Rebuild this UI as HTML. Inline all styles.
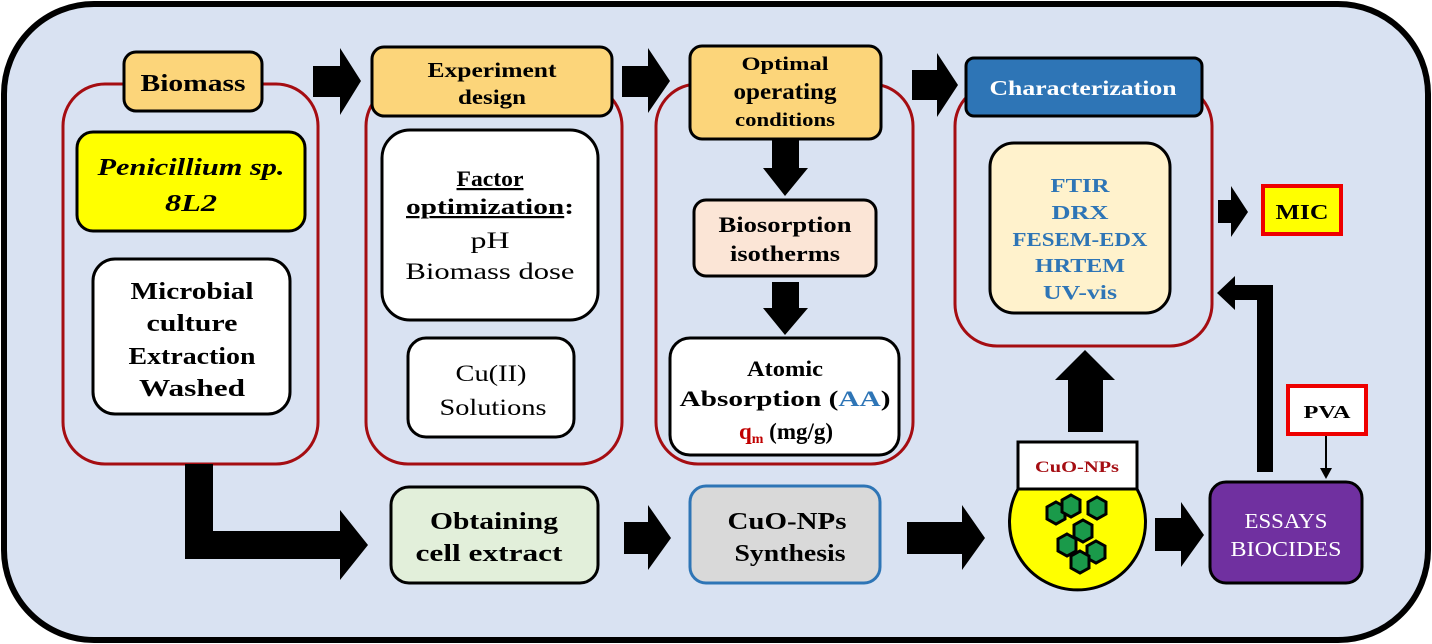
<!DOCTYPE html>
<html><head><meta charset="utf-8"><style>
html,body{margin:0;padding:0;background:#fff}
svg{display:block}
text{font-family:"Liberation Serif",serif;text-anchor:middle}
.b{font-weight:bold}
.n{font-weight:normal}
</style></head><body>
<svg width="1432" height="644" viewBox="0 0 1432 644" xmlns="http://www.w3.org/2000/svg">
<rect x="4" y="4" width="1424" height="636" rx="90" fill="#d9e2f2" stroke="#000" stroke-width="6"/>
<g fill="none" stroke="#a50d12" stroke-width="3">
<rect x="63" y="84" width="255" height="380" rx="42"/>
<rect x="366" y="84" width="256" height="380" rx="42"/>
<rect x="656" y="84" width="257" height="380" rx="42"/>
<rect x="955" y="84" width="257" height="262" rx="42"/>
</g>
<g fill="#000">
<polygon points="313,66 340,66 340,48 361,81 340,115 340,97 313,97"/>
<polygon points="622,66 648,66 648,48 670,81 648,113 648,97 622,97"/>
<polygon points="912,70 937,70 937,53 958,85 937,117 937,100 912,100"/>
<polygon points="772,140 799,140 799,168 808,168 785,196 763,168 772,168"/>
<polygon points="772,282 799,282 799,308 808,308 785,335 763,308 772,308"/>
<polygon points="185,464 213,464 213,531 340,531 340,510 368,545 340,580 340,559 185,559"/>
<polygon points="624,522 648,522 648,505 671,538 648,570 648,554 624,554"/>
<polygon points="907,522 962,522 962,505 985,538 962,570 962,554 907,554"/>
<polygon points="1155,518 1181,518 1181,502 1204,535 1181,567 1181,551 1155,551"/>
<polygon points="1068,432 1103,432 1103,380 1115,380 1085,350 1055,380 1068,380"/>
<polygon points="1257,472 1273,472 1273,285 1235,285 1235,276 1217,293 1235,310 1235,300 1257,300"/>
<polygon points="1218,200 1231,200 1231,186 1248,212 1231,237 1231,223 1218,223"/>
</g>
<line x1="1326" y1="434" x2="1326" y2="470" stroke="#000" stroke-width="2"/>
<polygon points="1320,468 1332,468 1326,479" fill="#000"/>
<g stroke="#000" stroke-width="3">
<rect x="124" y="52" width="138" height="59" rx="12" fill="#fcd57a"/>
<rect x="372" y="47" width="240" height="69" rx="12" fill="#fcd57a"/>
<rect x="690" y="46" width="191" height="93" rx="12" fill="#fcd57a"/>
<rect x="966" y="58" width="236" height="58" rx="8" fill="#2e75b6"/>
<rect x="77" y="132" width="228" height="99" rx="16" fill="#ffff00"/>
<rect x="93" y="259" width="197" height="155" rx="22" fill="#fff"/>
<rect x="382" y="130" width="216" height="190" rx="28" fill="#fff"/>
<rect x="408" y="338" width="166" height="99" rx="18" fill="#fff"/>
<rect x="694" y="200" width="182" height="76" rx="12" fill="#fbe5d6"/>
<rect x="670" y="338" width="229" height="117" rx="20" fill="#fff"/>
<rect x="990" y="143" width="180" height="170" rx="24" fill="#fff2cc"/>
<rect x="391" y="487" width="207" height="96" rx="18" fill="#e2efda"/>
<rect x="1210" y="482" width="152" height="101" rx="16" fill="#7030a0"/>
<path d="M1018,489 A68,68 0 1 0 1137,489 Z" fill="#ffff00"/>
<rect x="1018" y="442" width="119" height="47" fill="#fff"/>
</g>
<rect x="690" y="486" width="190" height="97" rx="16" fill="#d9d9d9" stroke="#2e75b6" stroke-width="3"/>
<rect x="1263" y="186" width="78" height="48" fill="#ffff00" stroke="#e00" stroke-width="4"/>
<rect x="1288" y="386" width="78" height="48" fill="#fff" stroke="#e00" stroke-width="4"/>
<g fill="#1a9a4a" stroke="#000" stroke-width="3">
<polygon points="1056,502 1065,507 1065,519 1056,524 1047,519 1047,507"/>
<polygon points="1071,495 1080,500 1080,512 1071,517 1062,512 1062,500"/>
<polygon points="1097,497 1106,502 1106,514 1097,519 1088,514 1088,502"/>
<polygon points="1083,520 1092,525 1092,537 1083,542 1074,537 1074,525"/>
<polygon points="1067,534 1076,539 1076,551 1067,556 1058,551 1058,539"/>
<polygon points="1096,541 1105,546 1105,558 1096,563 1087,558 1087,546"/>
<polygon points="1080,551 1089,556 1089,568 1080,573 1071,568 1071,556"/>
</g>
<g class="b">
<text x="193" y="91" font-size="24" textLength="105" lengthAdjust="spacingAndGlyphs">Biomass</text>
<text x="492" y="77" font-size="21" textLength="129" lengthAdjust="spacingAndGlyphs">Experiment</text>
<text x="492" y="104" font-size="21" textLength="68" lengthAdjust="spacingAndGlyphs">design</text>
<text x="785" y="70" font-size="19" textLength="87" lengthAdjust="spacingAndGlyphs">Optimal</text>
<text x="785" y="99" font-size="23" textLength="103" lengthAdjust="spacingAndGlyphs">operating</text>
<text x="785" y="126" font-size="19" textLength="100" lengthAdjust="spacingAndGlyphs">conditions</text>
<text x="1083" y="95" font-size="21" fill="#fff" textLength="187" lengthAdjust="spacingAndGlyphs">Characterization</text>
<text x="191" y="175" font-size="24" font-style="italic" textLength="187" lengthAdjust="spacingAndGlyphs">Penicillium sp.</text>
<text x="191" y="211" font-size="24" font-style="italic" textLength="52" lengthAdjust="spacingAndGlyphs">8L2</text>
<text x="192" y="299" font-size="24" textLength="123" lengthAdjust="spacingAndGlyphs">Microbial</text>
<text x="192" y="331" font-size="24" textLength="91" lengthAdjust="spacingAndGlyphs">culture</text>
<text x="192" y="364" font-size="24" textLength="127" lengthAdjust="spacingAndGlyphs">Extraction</text>
<text x="192" y="396" font-size="24" textLength="106" lengthAdjust="spacingAndGlyphs">Washed</text>
<text x="490" y="186" font-size="22" text-decoration="underline" textLength="67" lengthAdjust="spacingAndGlyphs">Factor</text>
<text x="490" y="214" font-size="22" textLength="168" lengthAdjust="spacingAndGlyphs"><tspan text-decoration="underline">optimization</tspan>:</text>
<text x="490" y="248" font-size="23" class="n" textLength="39" lengthAdjust="spacingAndGlyphs">pH</text>
<text x="490" y="279" font-size="23" class="n" textLength="169" lengthAdjust="spacingAndGlyphs">Biomass dose</text>
<text x="491" y="381" font-size="23" class="n" textLength="71" lengthAdjust="spacingAndGlyphs">Cu(II)</text>
<text x="493" y="415" font-size="23" class="n" textLength="107" lengthAdjust="spacingAndGlyphs">Solutions</text>
<text x="785" y="232" font-size="22" textLength="133" lengthAdjust="spacingAndGlyphs">Biosorption</text>
<text x="785" y="261" font-size="22" textLength="110" lengthAdjust="spacingAndGlyphs">isotherms</text>
<text x="785" y="376" font-size="22" textLength="76" lengthAdjust="spacingAndGlyphs">Atomic</text>
<text x="785" y="406" font-size="22" textLength="211" lengthAdjust="spacingAndGlyphs">Absorption (<tspan fill="#2e75b6">AA</tspan>)</text>
<text x="786" y="439" font-size="23"><tspan fill="#c00000">q<tspan font-size="14" dy="4">m</tspan></tspan><tspan dy="-4"> (mg/g)</tspan></text>
<g fill="#2e75b6" font-size="20">
<text x="1080" y="192" textLength="59" lengthAdjust="spacingAndGlyphs">FTIR</text>
<text x="1080" y="219" textLength="57" lengthAdjust="spacingAndGlyphs">DRX</text>
<text x="1080" y="246" textLength="135" lengthAdjust="spacingAndGlyphs">FESEM-EDX</text>
<text x="1080" y="272" textLength="90" lengthAdjust="spacingAndGlyphs">HRTEM</text>
<text x="1080" y="299" textLength="74" lengthAdjust="spacingAndGlyphs">UV-vis</text>
</g>
<text x="1302" y="219" font-size="21" textLength="53" lengthAdjust="spacingAndGlyphs">MIC</text>
<text x="1327" y="418" font-size="18" textLength="47" lengthAdjust="spacingAndGlyphs">PVA</text>
<text x="1077" y="472" font-size="16" fill="#a50d12" textLength="84" lengthAdjust="spacingAndGlyphs">CuO-NPs</text>
<text x="1286" y="528" font-size="21" fill="#fff" class="n" textLength="83" lengthAdjust="spacingAndGlyphs">ESSAYS</text>
<text x="1286" y="556" font-size="21" fill="#fff" class="n" textLength="111" lengthAdjust="spacingAndGlyphs">BIOCIDES</text>
<text x="494" y="529" font-size="24" textLength="128" lengthAdjust="spacingAndGlyphs">Obtaining</text>
<text x="489" y="561" font-size="24" textLength="147" lengthAdjust="spacingAndGlyphs">cell extract</text>
<text x="787" y="529" font-size="24" textLength="119" lengthAdjust="spacingAndGlyphs">CuO-NPs</text>
<text x="790" y="561" font-size="24" textLength="111" lengthAdjust="spacingAndGlyphs">Synthesis</text>
</g>
</svg>
</body></html>
